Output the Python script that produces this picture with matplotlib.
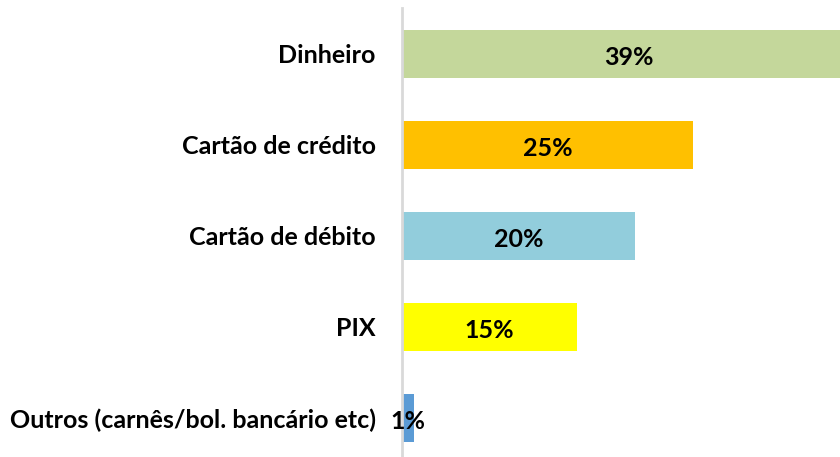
import matplotlib.pyplot as plt

categorias = ['Dinheiro', 'Cartão de crédito', 'Cartão de débito', 'PIX',
              'Outros (carnês/bol. bancário etc)']
valores = [39, 25, 20, 15, 1]
cores = ['#c4d79b', '#ffc000', '#92cddc', '#ffff00', '#5b9bd5']

plt.rcParams['font.family'] = ['Lato', 'DejaVu Sans']

fig = plt.figure(figsize=(8.4, 4.57), dpi=100)
ax = fig.add_axes([402 / 840, 0, 438 / 840, 1 - 8.5 / 457])

pos = list(range(len(categorias)))
ax.barh(pos, valores, height=0.52, color=cores, clip_on=True)
for p, v in zip(pos, valores):
    ax.text(v / 2, p + 0.04, f'{v}%', ha='center', va='center', fontsize=18,
            fontweight='bold', color='black', clip_on=False)

ax.set_xlim(0, 37.6)
ax.set_ylim(4.43, -0.5)
ax.set_yticks(pos)
ax.set_yticklabels(categorias, fontsize=18, fontweight='bold')
ax.tick_params(axis='y', length=0, pad=19)
ax.set_xticks([])
for s in ['top', 'right', 'bottom']:
    ax.spines[s].set_visible(False)
ax.spines['left'].set_color('#d9d9d9')
ax.spines['left'].set_linewidth(2)

plt.savefig('out.png', dpi=100)
